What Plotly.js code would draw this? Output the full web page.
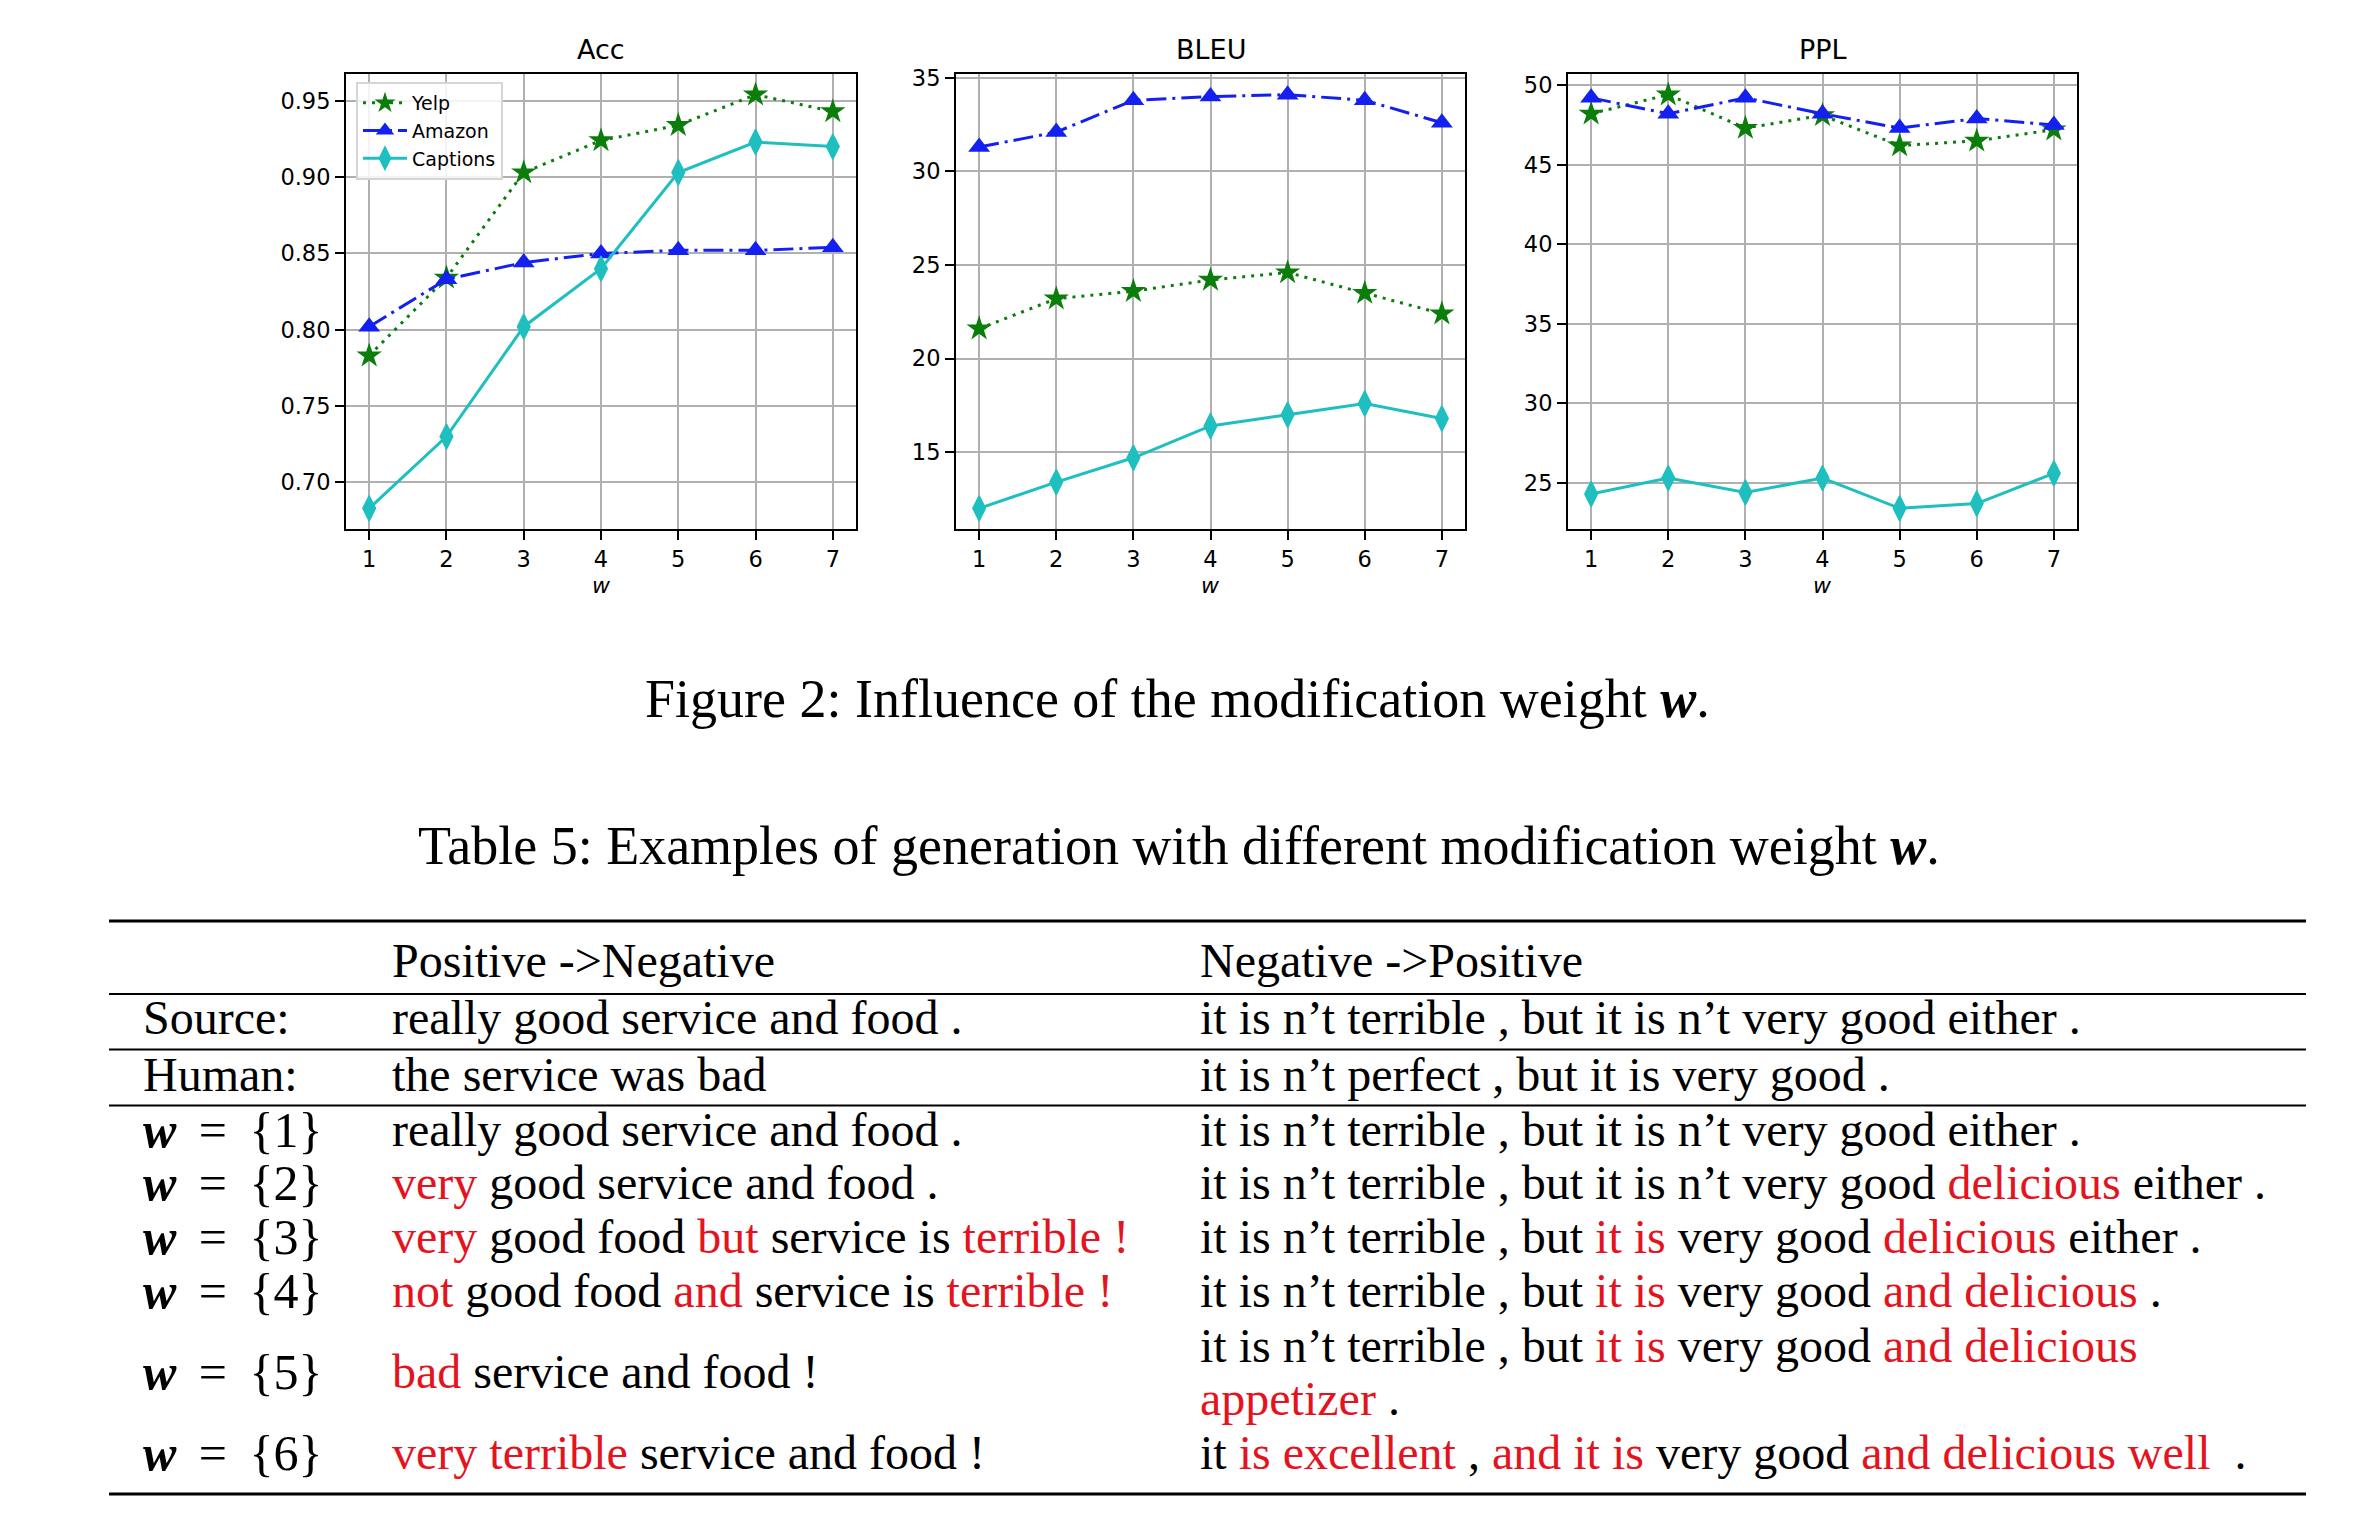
<!DOCTYPE html>
<html>
<head>
<meta charset="utf-8">
<script src="https://cdn.plot.ly/plotly-3.0.1.min.js"></script>
<style>html,body{margin:0;padding:0;background:#fff;}#chart{width:2380px;height:1540px;}</style>
</head>
<body>
<div id="chart"></div>
<script>
// ---------------- DATA ----------------
const weights = [1, 2, 3, 4, 5, 6, 7];
const seriesNames = ['Yelp', 'Amazon', 'Captions'];
const panelTitles = ['Acc', 'BLEU', 'PPL'];

const accYelp     = [0.783, 0.834, 0.903, 0.924, 0.934, 0.954, 0.943];
const accAmazon   = [0.802, 0.833, 0.844, 0.850, 0.852, 0.852, 0.854];
const accCaptions = [0.683, 0.730, 0.802, 0.840, 0.903, 0.923, 0.920];

const bleuYelp     = [21.6, 23.2, 23.6, 24.2, 24.6, 23.5, 22.4];
const bleuAmazon   = [31.3, 32.1, 33.8, 34.0, 34.1, 33.8, 32.6];
const bleuCaptions = [12.0, 13.4, 14.7, 16.4, 17.0, 17.6, 16.8];

const pplYelp     = [48.2, 49.4, 47.3, 48.1, 46.2, 46.5, 47.2];
const pplAmazon   = [49.2, 48.2, 49.2, 48.2, 47.3, 47.9, 47.5];
const pplCaptions = [24.3, 25.3, 24.4, 25.3, 23.4, 23.7, 25.6];

const accTicks  = [0.70, 0.75, 0.80, 0.85, 0.90, 0.95];
const bleuTicks = [15, 20, 25, 30, 35];
const pplTicks  = [25, 30, 35, 40, 45, 50];

const figCaption = 'Figure 2: Influence of the modification weight <b><i>w</i></b>.';
const tableCaption = 'Table 5: Examples of generation with different modification weight <b><i>w</i></b>.';

const colHeaders = ['', 'Positive -&gt;Negative', 'Negative -&gt;Positive'];
const rowLabels = ['Source:', 'Human:', 'w = {1}', 'w = {2}', 'w = {3}', 'w = {4}', 'w = {5}', 'w = {6}'];
const posToNeg = [
  'really good service and food .',
  'the service was bad',
  'really good service and food .',
  '[[very]] good service and food .',
  '[[very]] good food [[but]] service is [[terrible !]]',
  '[[not]] good food [[and]] service is [[terrible !]]',
  '[[bad]] service and food !',
  '[[very terrible]] service and food !'
];
const negToPos = [
  'it is n’t terrible , but it is n’t very good either .',
  'it is n’t perfect , but it is very good .',
  'it is n’t terrible , but it is n’t very good either .',
  'it is n’t terrible , but it is n’t very good [[delicious]] either .',
  'it is n’t terrible , but [[it is]] very good [[delicious]] either .',
  'it is n’t terrible , but [[it is]] very good [[and delicious]] .',
  'it is n’t terrible , but [[it is]] very good [[and delicious]]|[[appetizer]] .',
  'it [[is excellent]] , [[and it is]] very good [[and delicious well]] &nbsp;.'
];

// ---------------- STYLE ----------------
const W = 2380, H = 1540;
const px = v => v / W;
const py = v => 1 - v / H;
const GREEN = '#0b7d0b', BLUE = '#1420f0', CYAN = '#1fbfbf', RED = '#e4141e';
const sans = 'DejaVu Sans';
const serif = 'Liberation Serif, Times New Roman, serif';

const panels = [
  {data: [accYelp, accAmazon, accCaptions], ticks: accTicks, fmt: '.2f', xd: [346, 856]},
  {data: [bleuYelp, bleuAmazon, bleuCaptions], ticks: bleuTicks, fmt: 'd', xd: [956, 1465]},
  {data: [pplYelp, pplAmazon, pplCaptions], ticks: pplTicks, fmt: 'd', xd: [1568, 2077]}
];
const seriesStyle = [
  {color: GREEN, dash: '3px,6px', symbol: 'star', size: 19, lw: 0},
  {color: BLUE, dash: '20px,6px,3px,6px', symbol: 'triangle-up', size: 19, lw: 0},
  {color: CYAN, dash: 'solid', symbol: 'diamond-tall', size: 18, lw: 1.5}
];
const plotTop = 74, plotBottom = 529;

function autoRange(arrs) {
  const all = [].concat(...arrs);
  const mn = Math.min(...all), mx = Math.max(...all);
  const pad = 0.05 * (mx - mn);
  return [mn - pad, mx + pad];
}

const traces = [];
const layout = {
  width: W, height: H,
  margin: {l: 0, r: 0, t: 0, b: 0},
  paper_bgcolor: '#fff', plot_bgcolor: '#fff',
  showlegend: true,
  legend: {
    x: px(356), y: py(82), xanchor: 'left', yanchor: 'top',
    bgcolor: 'rgba(255,255,255,0.85)', bordercolor: '#d5d5d5', borderwidth: 2,
    font: {family: sans, size: 19, color: '#000'},
    tracegroupgap: 0, itemwidth: 44
  },
  annotations: [],
  shapes: []
};

panels.forEach((p, i) => {
  const sfx = i === 0 ? '' : String(i + 1);
  const xk = 'x' + sfx, yk = 'y' + sfx;
  p.data.forEach((vals, s) => {
    const st = seriesStyle[s];
    traces.push({
      type: 'scatter', mode: 'lines+markers',
      x: weights, y: vals, name: seriesNames[s],
      xaxis: xk, yaxis: yk,
      showlegend: i === 0, legendgroup: seriesNames[s],
      line: {color: st.color, width: 3, dash: st.dash},
      marker: {symbol: st.symbol, size: st.size, color: st.color, line: {width: st.lw, color: st.color}},
      hoverinfo: 'skip'
    });
  });
  const axCommon = {
    ticks: 'outside', ticklen: 9, tickwidth: 2, tickcolor: '#000',
    showline: true, mirror: true, linecolor: '#000', linewidth: 2,
    showgrid: true, gridcolor: '#b0b0b0', gridwidth: 2, zeroline: false,
    tickfont: {family: sans, size: 22.5, color: '#000'}, fixedrange: true
  };
  layout['xaxis' + sfx] = Object.assign({}, axCommon, {
    domain: [px(p.xd[0]), px(p.xd[1])], anchor: yk,
    range: [0.7, 7.3], tickvals: weights
  });
  layout['yaxis' + sfx] = Object.assign({}, axCommon, {
    domain: [py(plotBottom), py(plotTop)], anchor: xk,
    range: autoRange(p.data), tickvals: p.ticks, tickformat: p.fmt
  });
  const cx = (p.xd[0] + p.xd[1]) / 2;
  layout.annotations.push({
    text: panelTitles[i], xref: 'paper', yref: 'paper', x: px(cx), y: py(50),
    xanchor: 'center', yanchor: 'middle', showarrow: false,
    font: {family: sans, size: 27, color: '#000'}
  });
  layout.annotations.push({
    text: '<i>w</i>', xref: 'paper', yref: 'paper', x: px(cx), y: py(586),
    xanchor: 'center', yanchor: 'middle', showarrow: false,
    font: {family: sans, size: 22, color: '#000'}
  });
});

// ---------------- CAPTIONS ----------------
function txt(text, x, yc, size, anchor) {
  layout.annotations.push({
    text: text, xref: 'paper', yref: 'paper', x: px(x), y: py(yc),
    xanchor: anchor || 'left', yanchor: 'middle', showarrow: false,
    font: {family: serif, size: size, color: '#000'}
  });
}
txt(figCaption, 1177, 699, 54, 'center');
txt(tableCaption, 1179, 846, 54, 'center');

// ---------------- TABLE ----------------
const redify = s => s.replace(/\[\[(.+?)\]\]/g, '<span style="color:' + RED + '">$1</span>');
const mathLabel = s => s.replace(/^w = /, '<b><i>w</i></b>&#8201; = &#8201;');
const colX = [141, 390, 1198];
const tableX = [109, 2306];
const FS = 48;
const base2center = b => b - 0.3375 * FS + 2;

// header
colHeaders.forEach((h, c) => { if (h) txt(h, colX[c], base2center(975), FS); });
// rows
const rowBase = [1032, 1089, 1144, 1197, 1251, 1305, 1386, 1467];
const lineStep = 53.5;
rowLabels.forEach((lab, r) => {
  const b = rowBase[r];
  txt(mathLabel(lab), colX[0], base2center(b), r >= 2 ? 50 : FS);
  txt(redify(posToNeg[r]), colX[1], base2center(b), FS);
  const parts = negToPos[r].split('|');
  const start = b - (parts.length - 1) * lineStep / 2;
  parts.forEach((pt, k) => txt(redify(pt), colX[2], base2center(start + k * lineStep), FS));
});
// rules
const rules = [[921, 3], [994, 2], [1049.5, 2], [1105.5, 2], [1494, 3]];
rules.forEach(([y, w]) => {
  layout.shapes.push({
    type: 'line', xref: 'paper', yref: 'paper',
    x0: px(tableX[0]), x1: px(tableX[1]), y0: py(y), y1: py(y),
    line: {color: '#000', width: w}
  });
});

Plotly.newPlot('chart', traces, layout, {staticPlot: true, displayModeBar: false});
</script>
</body>
</html>
